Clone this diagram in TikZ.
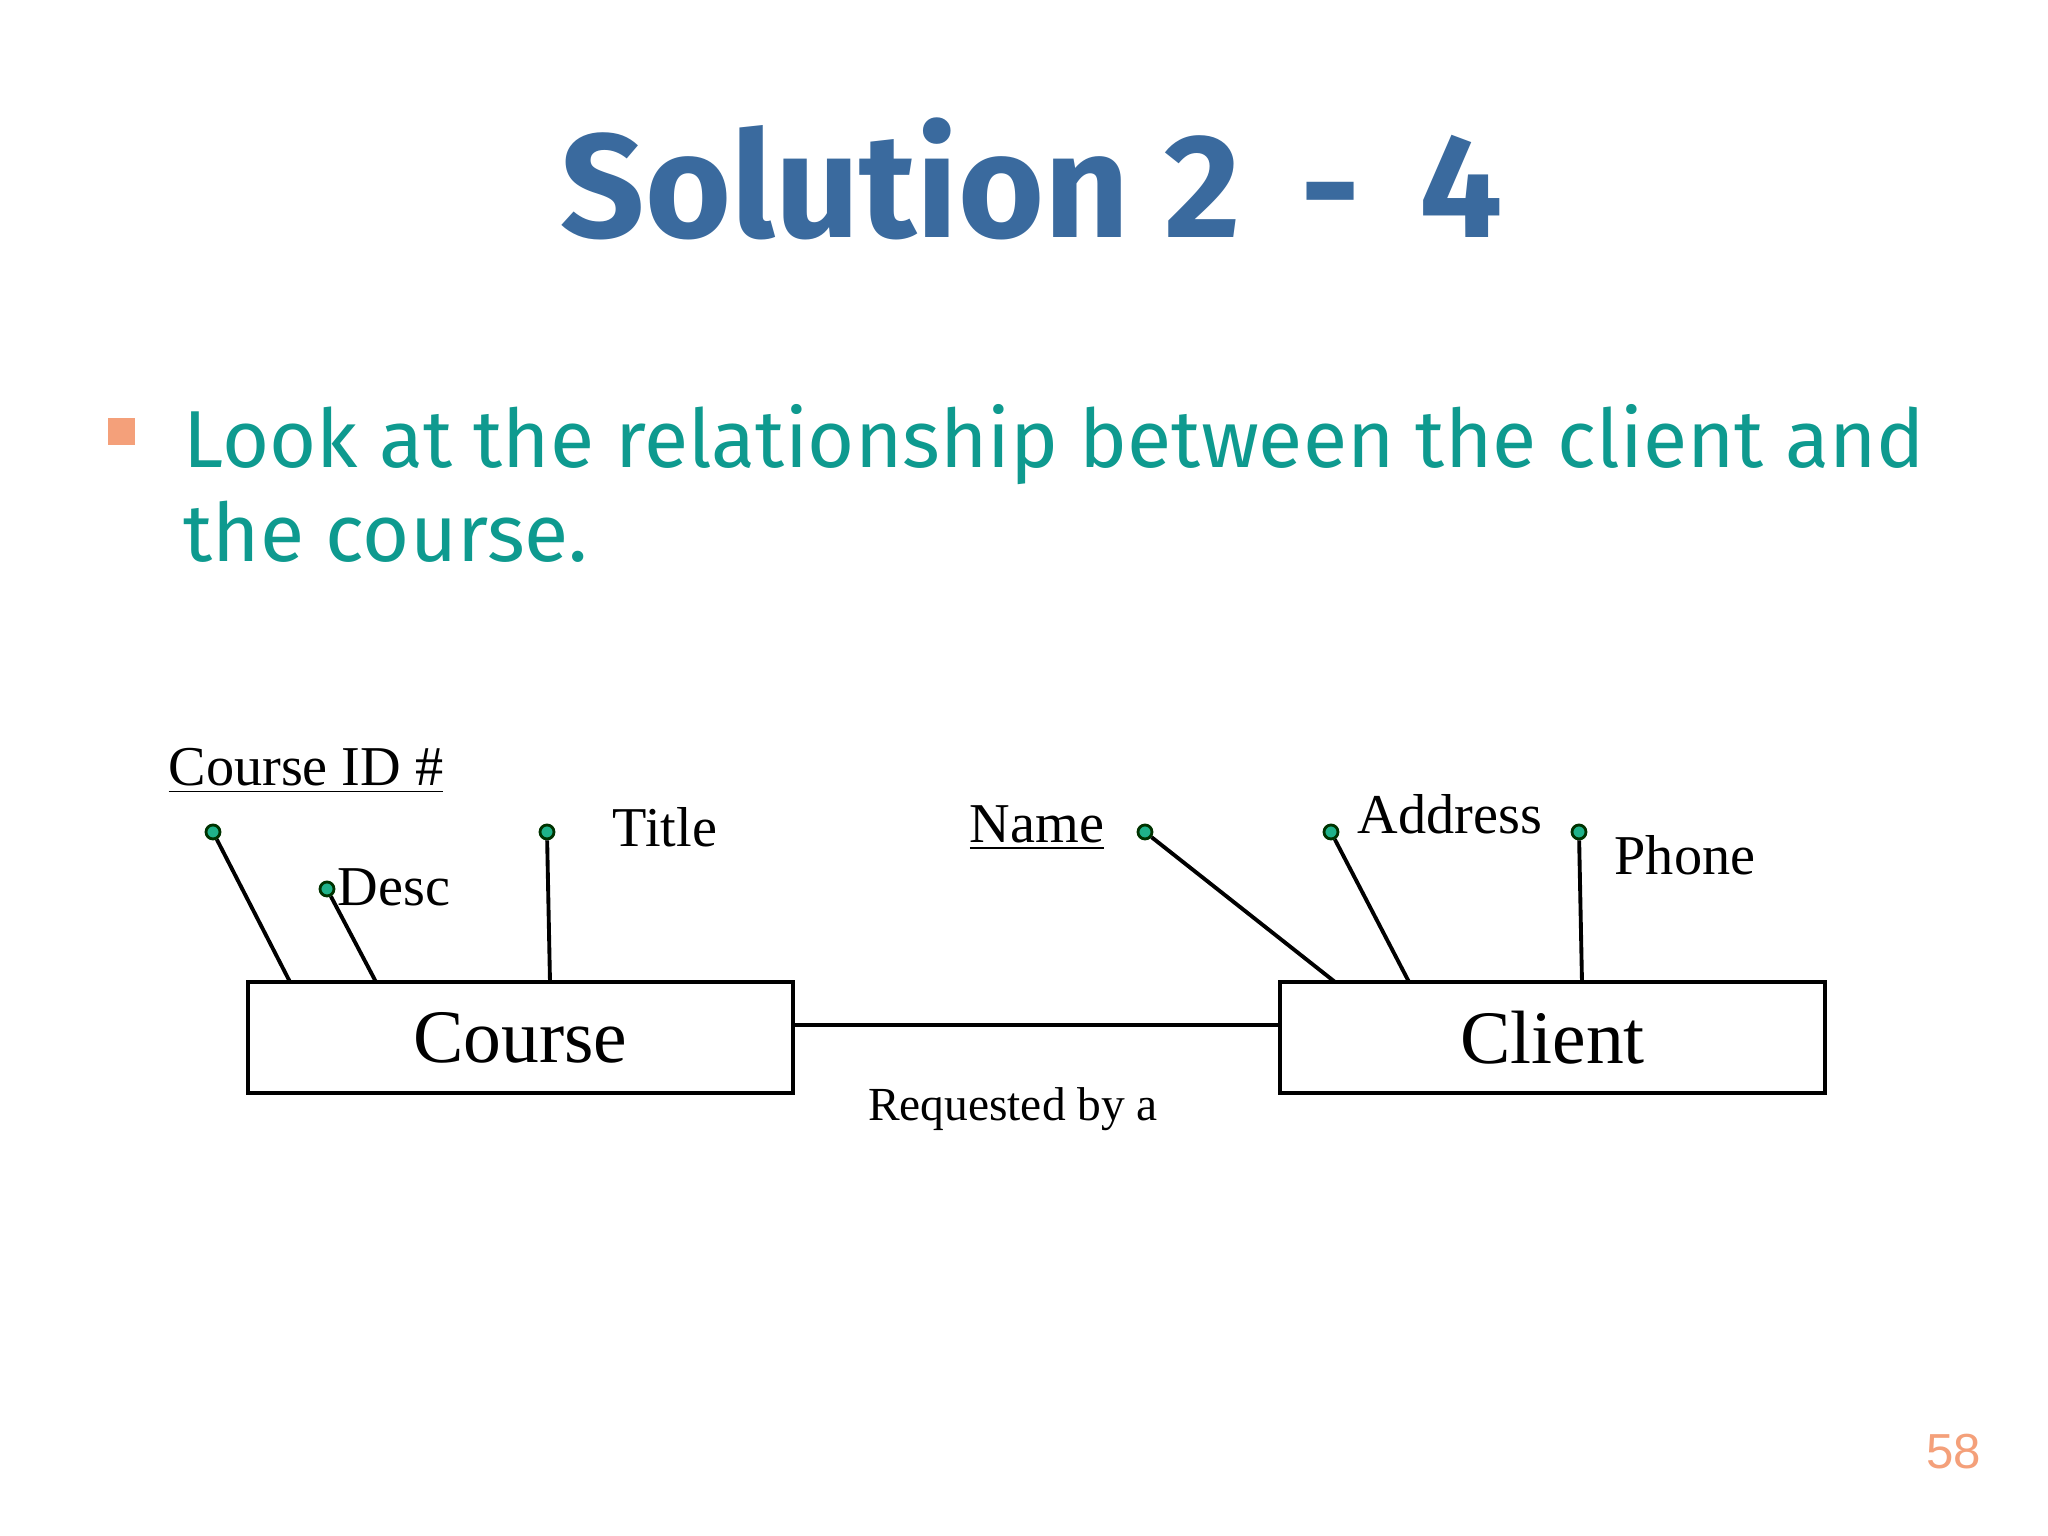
\documentclass[tikz,border=0pt]{standalone}
\usepackage{fontspec}
\setmainfont{Liberation Serif}
\newfontfamily\comicf{Fira Sans}
\newfontfamily\arialf{Liberation Sans}
\definecolor{titleblue}{HTML}{3A6A9E}
\definecolor{tealtext}{HTML}{0E9A8F}
\definecolor{bulletor}{HTML}{F4A07A}
\definecolor{dotgreen}{HTML}{1FB38A}
\tikzset{
 entity/.style={draw,line width=1.2pt,minimum width=5.45cm,minimum height=1.11cm,font=\fontsize{21.5}{24}\selectfont,inner sep=0pt},
 attr/.style={circle,draw=black!80!green,fill=dotgreen,line width=0.8pt,minimum size=0.14cm,inner sep=0pt},
 alabel/.style={font=\fontsize{16}{18}\selectfont,inner sep=0pt},
 link/.style={line width=1.1pt}
}
\begin{document}
\begin{tikzpicture}
\useasboundingbox[fill=white] (0,0) rectangle (20.48,15.36);
\node (title) at (10.32,13.57) {\comicf\bfseries\fontsize{42}{46}\selectfont\color{titleblue}Solution 2 \,-\, 4};
\node[fill=bulletor,minimum size=0.27cm,inner sep=0pt] (bul) at (1.21,11.04) {};
\node[anchor=base west,inner sep=0pt,text=tealtext] (l1) at (1.83,10.68) {\comicf\fontsize{23}{26}\selectfont Look at the relationship between the client and};
\node[anchor=base west,inner sep=0pt,text=tealtext] (l2) at (1.83,9.74) {\comicf\fontsize{23}{26}\selectfont the course.};

\node[entity] (course) at (5.205,4.985) {Course};
\node[entity] (client) at (15.525,4.985) {Client};
\draw[link] (course.east |- 0,5.11) coordinate (r1) -- (client.west |- 0,5.11) coordinate (r2);
\node[font=\fontsize{13.5}{16}\selectfont] (rel) at (10.13,4.27) {Requested by a};

\node[attr] (cid) at (2.13,7.04) {};
\node[alabel] (cidl) at (3.06,7.65) {\underline{Course ID \#}};
\coordinate (cidE) at (2.90,5.54);
\draw[link] (cid) -- (cidE);
\node[attr] (desc) at (3.27,6.47) {};
\node[alabel,anchor=west] (descl) at (3.37,6.49) {Desc};
\coordinate (descE) at (3.76,5.54);
\draw[link] (desc) -- (descE);
\node[attr] (tit) at (5.47,7.04) {};
\node[alabel] (titl) at (6.65,7.09) {Title};
\coordinate (titE) at (5.50,5.54);
\draw[link] (tit) -- (titE);

\node[alabel] (namel) at (10.37,7.08) {\underline{Name}};
\node[attr] (name) at (11.45,7.04) {};
\coordinate (nameE) at (13.35,5.54);
\draw[link] (name) -- (nameE);
\node[attr] (addr) at (13.31,7.04) {};
\node[alabel] (addrl) at (14.50,7.22) {Address};
\coordinate (addrE) at (14.09,5.54);
\draw[link] (addr) -- (addrE);
\node[attr] (ph) at (15.79,7.04) {};
\node[alabel] (phl) at (16.85,6.81) {Phone};
\coordinate (phE) at (15.82,5.54);
\draw[link] (ph) -- (phE);

\node[text=bulletor] (pg) at (19.54,0.84) {\arialf\fontsize{14}{16}\selectfont 58};
\end{tikzpicture}
\end{document}
